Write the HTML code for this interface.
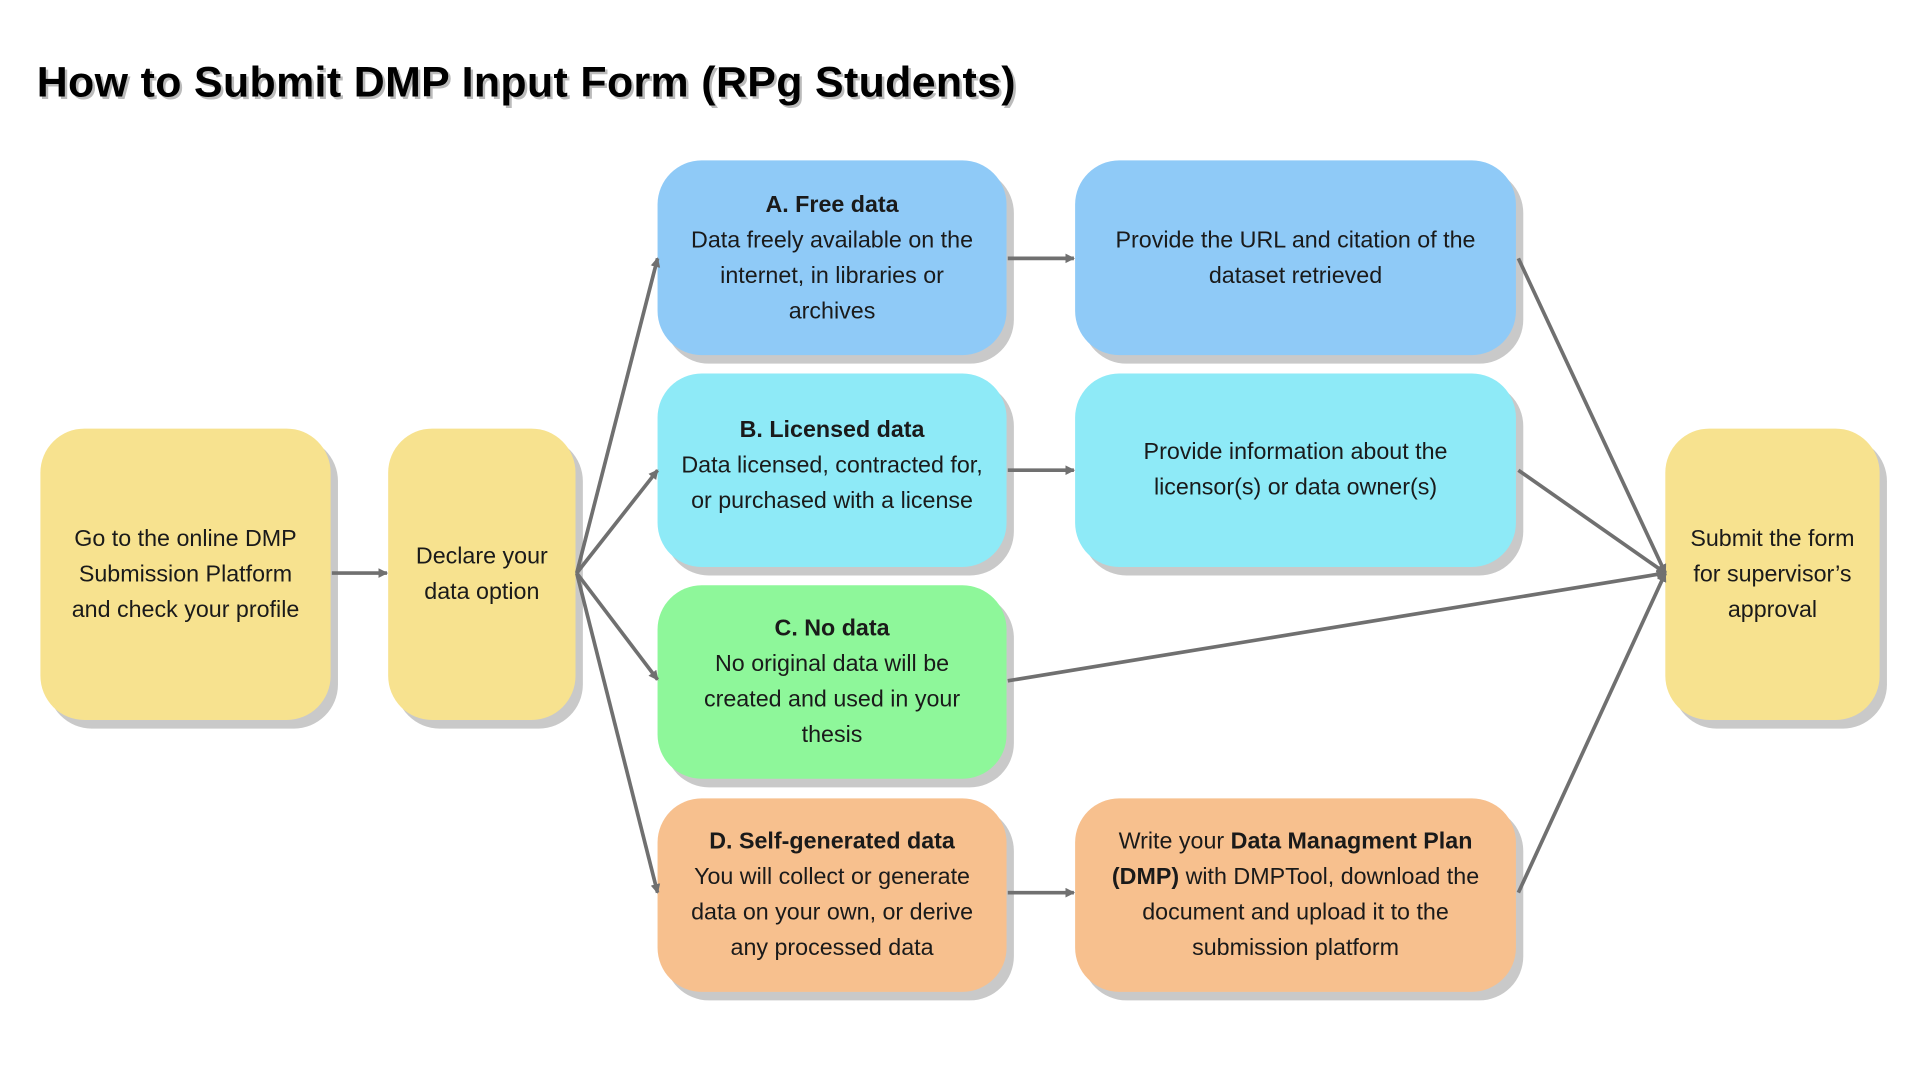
<!DOCTYPE html>
<html><head><meta charset="utf-8"><style>
html,body{margin:0;padding:0;background:#fff;width:1920px;height:1080px;overflow:hidden}
#w{position:absolute;left:0;top:0;width:1568px;height:882px;transform:scale(1.2245);transform-origin:0 0;font-family:"Liberation Sans",sans-serif}
.b{position:absolute;border-radius:36px;box-shadow:6px 7px 0 #c9c9c9;display:flex;align-items:center;justify-content:center;text-align:center;font-size:19px;line-height:29px;color:#1a1a1a;box-sizing:border-box;padding:0 4px}
.y{background:#f7e28f}.bl{background:#8fcaf7}.cy{background:#8eeaf7}.g{background:#8ef79a}.o{background:#f7c08e}
h1{position:absolute;left:30px;top:48px;margin:0;font-size:35px;font-weight:bold;color:#000;text-shadow:2px 2px 0 #bbb;letter-spacing:0.3px}
svg{position:absolute;left:0;top:0}
</style></head><body><div id="w">
<h1>How to Submit DMP Input Form (RPg Students)</h1>
<div class="b y" style="left:33px;top:350px;width:237px;height:238px">Go to the online DMP<br>Submission Platform<br>and check your profile</div>
<div class="b y" style="left:317px;top:350px;width:153px;height:238px">Declare your<br>data option</div>
<div class="b bl" style="left:537px;top:131px;width:285px;height:159px"><div><b>A. Free data</b><br>Data freely available on the<br>internet, in libraries or<br>archives</div></div>
<div class="b bl" style="left:878px;top:131px;width:360px;height:159px;padding-bottom:0px">Provide the URL and citation of the<br>dataset retrieved</div>
<div class="b cy" style="left:537px;top:305px;width:285px;height:158px;padding-bottom:8px"><div><b>B. Licensed data</b><br>Data licensed, contracted for,<br>or purchased with a license</div></div>
<div class="b cy" style="left:878px;top:305px;width:360px;height:158px;padding-bottom:0px">Provide information about the<br>licensor(s) or data owner(s)</div>
<div class="b g" style="left:537px;top:478px;width:285px;height:158px"><div><b>C. No data</b><br>No original data will be<br>created and used in your<br>thesis</div></div>
<div class="b o" style="left:537px;top:652px;width:285px;height:158px"><div><b>D. Self-generated data</b><br>You will collect or generate<br>data on your own, or derive<br>any processed data</div></div>
<div class="b o" style="left:878px;top:652px;width:360px;height:158px"><div>Write your <b>Data Managment Plan</b><br><b>(DMP)</b> with DMPTool, download the<br>document and upload it to the<br>submission platform</div></div>
<div class="b y" style="left:1360px;top:350px;width:175px;height:238px">Submit the form<br>for supervisor’s<br>approval</div>
<svg width="1568" height="882"><defs><marker id="a" markerWidth="8" markerHeight="8" refX="7" refY="4" orient="auto" markerUnits="userSpaceOnUse"><path d="M0,0L8,4L0,8z" fill="#707070"/></marker></defs>
<g stroke="#707070" stroke-width="3" fill="none" marker-end="url(#a)">
<line x1="271" y1="468" x2="316" y2="468"/>
<line x1="471" y1="468" x2="537" y2="211"/>
<line x1="471" y1="468" x2="537" y2="384"/>
<line x1="471" y1="468" x2="537" y2="555"/>
<line x1="471" y1="468" x2="537" y2="729"/>
<line x1="823" y1="211" x2="877" y2="211"/>
<line x1="823" y1="384" x2="877" y2="384"/>
<line x1="823" y1="729" x2="877" y2="729"/>
<line x1="1240" y1="211" x2="1360" y2="468"/>
<line x1="1240" y1="384" x2="1360" y2="468"/>
<line x1="823" y1="556" x2="1360" y2="468"/>
<line x1="1240" y1="729" x2="1360" y2="468"/>
</g></svg>
</div></body></html>
